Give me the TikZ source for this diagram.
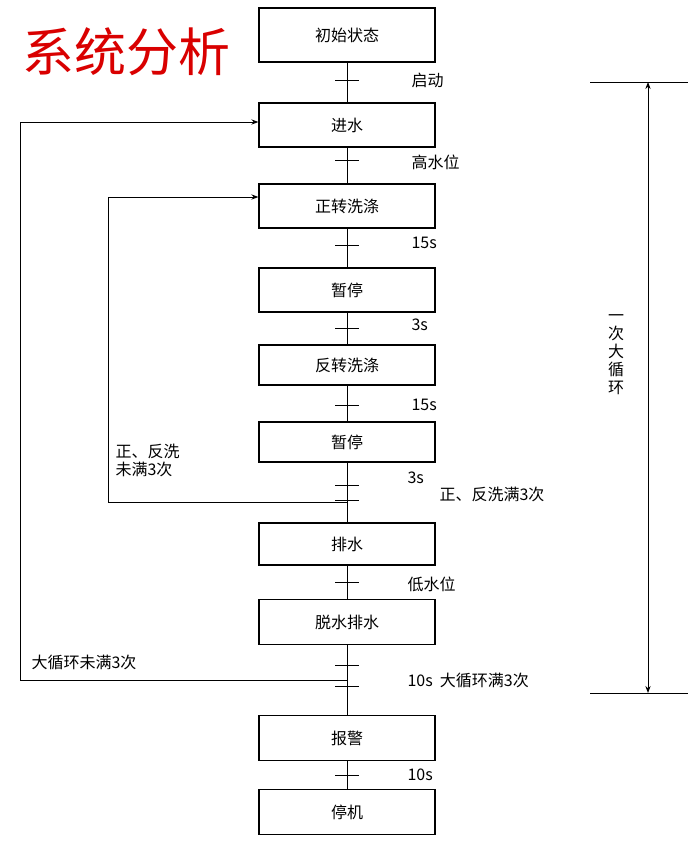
\documentclass[tikz,border=0pt]{standalone}
\usepackage{fontspec}
\setmainfont{Noto Sans CJK SC}
\usetikzlibrary{arrows.meta}
\begin{document}
\begin{tikzpicture}[x=1pt,y=-1pt,
  stepbox/.style={draw,line width=1.2pt,minimum width=176pt,font=\fontsize{16}{18}\selectfont},
  lbl/.style={font=\fontsize{16}{18}\selectfont,anchor=west},
  bar/.style={line width=1pt},
  ln/.style={line width=0.9pt},
  >={Stealth[length=7pt]}]
\useasboundingbox (0,0) rectangle (691,843);
\fill[white] (0,0) rectangle (691,843);
\node[font=\fontsize{52}{56}\selectfont,text=red!85!black,draw=black!30,line width=0.3pt,inner sep=0pt,draw opacity=0] (title) at (126,52) {系统分析};
\foreach \n/\t/\y/\h in {s1/初始状态/35/54, s2/进水/125/44, s3/正转洗涤/206/44, s4/暂停/290/44, s5/反转洗涤/365/40, s6/暂停/442/40, s7/排水/544/42, s8/脱水排水/622/45, s9/报警/738/45, s10/停机/812/45}
  \node[stepbox,minimum height=\h pt] (\n) at (347,\y) {\t};
\draw[ln] (s1.south) -- (s2.north);
\draw[ln] (s2.south) -- (s3.north);
\draw[ln] (s3.south) -- (s4.north);
\draw[ln] (s4.south) -- (s5.north);
\draw[ln] (s5.south) -- (s6.north);
\draw[ln] (s6.south) -- (s7.north);
\draw[ln] (s7.south) -- (s8.north);
\draw[ln] (s8.south) -- (s9.north);
\draw[ln] (s9.south) -- (s10.north);
\foreach \y in {80,160,245,328,405,485,500,582,665,686,775}
  \draw[bar] (335,\y) -- (359,\y);
\node[lbl] at (408,80) {启动};
\node[lbl] at (408,162) {高水位};
\node[lbl] at (408,243) {15s};
\node[lbl] at (408,325) {3s};
\node[lbl] at (408,405) {15s};
\node[lbl] at (404,478) {3s};
\node[lbl] at (436,494) {正、反洗满3次};
\node[lbl] at (404,584) {低水位};
\node[lbl] at (404,680) {10s\ \ 大循环满3次};
\node[lbl] at (404,775) {10s};
% loop 1
\coordinate (b1) at (347,502);
\draw[ln,->] (b1) -- (108,502) -- (108,197) -- (s3.west |- 0,197);
\node[lbl,align=left] at (112,460) {正、反洗\\未满3次};
% loop 2
\coordinate (b2) at (347,680);
\draw[ln,->] (b2) -- (20,680) -- (20,122) -- (s2.west |- 0,122);
\node[lbl] at (28,662) {大循环未满3次};
% bracket
\coordinate (t1) at (648,82);
\coordinate (t2) at (648,693);
\draw[ln] (590,82) -- (688,82);
\draw[ln] (590,693) -- (688,693);
\draw[ln,<->] (t1) -- (t2);
\node[font=\fontsize{16}{18}\selectfont,align=center,fill=white,inner sep=1pt] at (616,355) {一\\次\\大\\循\\环};
\end{tikzpicture}
\end{document}
